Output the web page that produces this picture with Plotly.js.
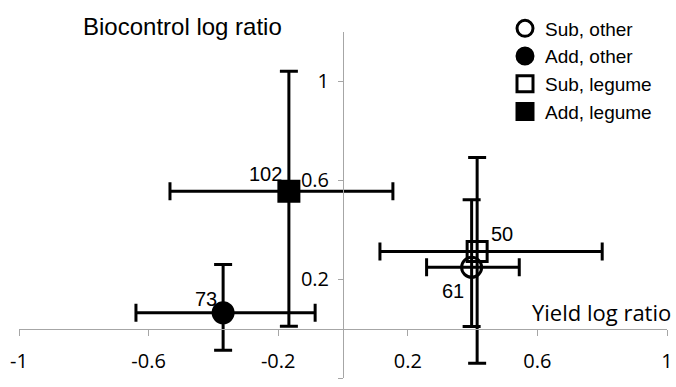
<!DOCTYPE html>
<html>
<head>
<meta charset="utf-8">
<script src="https://cdn.plot.ly/plotly-3.0.1.min.js"></script>
<style>html,body{margin:0;padding:0;background:#fff;}#chart{width:676px;height:387px;}</style>
</head>
<body>
<div id="chart"></div>
<script>
// ---- data ----
var seriesNames = ['Sub, other', 'Add, other', 'Sub, legume', 'Add, legume'];
var yieldLogRatio = [0.397, -0.370, 0.414, -0.167];
var biocontrolLogRatio = [0.248, 0.064, 0.312, 0.556];
var yieldErrMinus = [0.139, 0.269, 0.300, 0.367];
var yieldErrPlus = [0.147, 0.284, 0.386, 0.321];
var bioErrMinus = [0.240, 0.152, 0.452, 0.547];
var bioErrPlus = [0.273, 0.195, 0.380, 0.485];
var sampleSizes = ['61', '73', '50', '102'];
var xTickVals = [-1, -0.6, -0.2, 0.2, 0.6, 1];
var xTickText = ['-1', '-0.6', '-0.2', '0.2', '0.6', '1'];
var yTickVals = [-0.2, 0.2, 0.6, 1];
var yTickText = ['-0.2', '0.2', '0.6', '1'];

// ---- styles ----
var symbols = ['circle-open', 'circle', 'square-open', 'square'];
var labelShift = [[-19, -24], [-17, 14], [25, 17], [-23, 17]];
var arial = 'Liberation Sans, Arial, sans-serif';
var calibri = 'Open Sans, sans-serif';

var traces = seriesNames.map(function (name, i) {
  return {
    type: 'scatter', mode: 'markers', name: name,
    x: [yieldLogRatio[i]], y: [biocontrolLogRatio[i]],
    marker: {symbol: symbols[i], size: 20, color: '#000', line: {color: '#000', width: 3}},
    error_x: {type: 'data', symmetric: false, array: [yieldErrPlus[i]], arrayminus: [yieldErrMinus[i]],
              color: '#000', thickness: 3, width: 9},
    error_y: {type: 'data', symmetric: false, array: [bioErrPlus[i]], arrayminus: [bioErrMinus[i]],
              color: '#000', thickness: 3, width: 9},
    hoverinfo: 'skip'
  };
});

var annotations = sampleSizes.map(function (t, i) {
  return {x: yieldLogRatio[i], y: biocontrolLogRatio[i], xref: 'x', yref: 'y', text: t,
          showarrow: false, xshift: labelShift[i][0], yshift: labelShift[i][1],
          font: {family: arial, size: 20, color: '#000'}};
});
annotations.push({xref: 'paper', yref: 'paper', x: 1.01, y: (378 - 311) / 350, xanchor: 'right', yanchor: 'middle',
  text: 'Yield log ratio', showarrow: false, font: {family: calibri, size: 22, color: '#000'}});
annotations.push({xref: 'paper', yref: 'paper', x: 0.253, y: (378 - 22) / 350, xanchor: 'center', yanchor: 'middle',
  text: 'Biocontrol log ratio', showarrow: false, font: {family: arial, size: 24, color: '#000'}});

var axisCommon = {showgrid: false, zeroline: false, showline: true, linecolor: '#a6a6a6', linewidth: 1,
  ticks: 'outside', ticklen: 6, tickcolor: '#a6a6a6', tickwidth: 1, tickmode: 'array',
  tickfont: {family: calibri, size: 20, color: '#000'}, fixedrange: true};

var layout = {
  width: 676, height: 387,
  margin: {l: 19, r: 9, t: 28, b: 9, pad: 0},
  paper_bgcolor: '#fff', plot_bgcolor: '#fff',
  showlegend: true,
  legend: {x: 0.75, y: 1.065, xanchor: 'left', yanchor: 'top', bgcolor: 'rgba(0,0,0,0)',
           font: {family: arial, size: 19, color: '#000'}, itemwidth: 30, tracegroupgap: 0},
  xaxis: Object.assign({}, axisCommon, {range: [-1, 1], tickvals: xTickVals, ticktext: xTickText,
    anchor: 'free', position: 0.2 / 1.4, ticklabelstandoff: 8}),
  yaxis: Object.assign({}, axisCommon, {range: [-0.2, 1.2], tickvals: yTickVals, ticktext: yTickText,
    anchor: 'free', position: 0.5, ticklen: 5, ticklabelstandoff: 5}),
  annotations: annotations
};

Plotly.newPlot('chart', traces, layout, {displayModeBar: false, staticPlot: true});
</script>
</body>
</html>
